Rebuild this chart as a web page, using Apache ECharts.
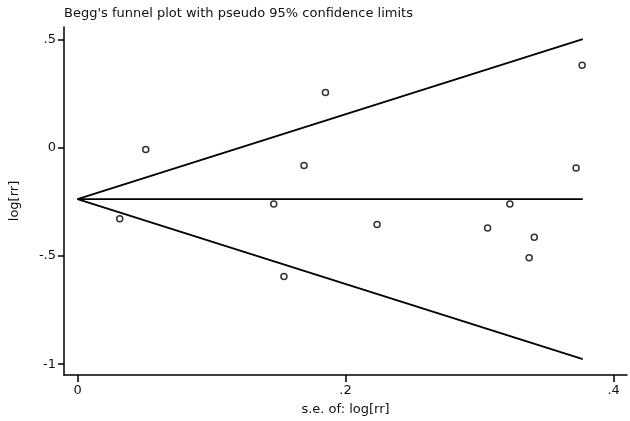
<!DOCTYPE html>
<html>
<head>
<meta charset="utf-8">
<script src="https://cdn.jsdelivr.net/npm/echarts@6/dist/echarts.min.js"></script>
<style>html,body{margin:0;padding:0;background:#fff;}#c{width:630px;height:421px;}</style>
</head>
<body>
<div id="c"></div>
<script>
// Study points
var seValues = [0.0315, 0.0509, 0.1464, 0.154, 0.169, 0.185, 0.2235, 0.306, 0.3226, 0.3408, 0.337, 0.372, 0.3765];
var logRR    = [-0.328, -0.009, -0.26, -0.595, -0.083, 0.255, -0.355, -0.371, -0.26, -0.414, -0.509, -0.094, 0.38];
// Funnel: pooled estimate and pseudo 95% limits at the largest s.e.
var funnelSe    = [0, 0.377];
var pooled      = [-0.238, -0.238];
var upperLimit  = [-0.238, 0.501];
var lowerLimit  = [-0.238, -0.977];
// Tick values and labels
var xTicks = [0, 0.2, 0.4];
var xTickLabels = ['0', '.2', '.4'];
var yTicks = [-1, -0.5, 0, 0.5];
var yTickLabels = ['-1', '-.5', '0', '.5'];

var font = 'DejaVu Sans';
function pairs(xs, ys){ return xs.map(function(x,i){ return [x, ys[i]]; }); }
function labelFor(vals, labels){ return function(v){ for (var i=0;i<vals.length;i++){ if (Math.abs(vals[i]-v)<1e-9) return labels[i]; } return ''; }; }

var lineStyle = {color:'#000', width:1.8};
var chart = echarts.init(document.getElementById('c'), null, {renderer:'canvas'});
chart.setOption({
  animation:false,
  backgroundColor:'#fff',
  title:{text:"Begg's funnel plot with pseudo 95% confidence limits", left:59, top:2,
    textStyle:{fontFamily:font, fontSize:13, fontWeight:'normal', color:'#111'}},
  grid:{left:59, right:3, top:27, bottom:45, containLabel:false},
  xAxis:{type:'value', min:-0.0101, max:0.41,
    name:'s.e. of: log[rr]', nameLocation:'middle', nameGap:28,
    nameTextStyle:{fontFamily:font, fontSize:13, color:'#111'},
    axisLine:{show:true, onZero:false, lineStyle:{color:'#000', width:1.5}},
    axisTick:{show:true, length:7, lineStyle:{color:'#000', width:1.5}, customValues:xTicks},
    axisLabel:{fontFamily:font, fontSize:13, color:'#111', margin:9, customValues:xTicks,
      formatter:labelFor(xTicks, xTickLabels)},
    splitLine:{show:false}},
  yAxis:{type:'value', min:-1.05, max:0.557,
    name:'log[rr]', nameLocation:'middle', nameGap:43, nameRotate:90,
    nameTextStyle:{fontFamily:font, fontSize:13, color:'#111'},
    axisLine:{show:true, onZero:false, lineStyle:{color:'#000', width:1.5}},
    axisTick:{show:true, length:6, lineStyle:{color:'#000', width:1.5}, customValues:yTicks},
    axisLabel:{fontFamily:font, fontSize:13, color:'#111', margin:8, customValues:yTicks,
      formatter:labelFor(yTicks, yTickLabels)},
    splitLine:{show:false}},
  series:[
    {type:'line', data:pairs(funnelSe, upperLimit), symbol:'none', lineStyle:lineStyle, silent:true},
    {type:'line', data:pairs(funnelSe, pooled), symbol:'none', lineStyle:lineStyle, silent:true},
    {type:'line', data:pairs(funnelSe, lowerLimit), symbol:'none', lineStyle:lineStyle, silent:true},
    {type:'scatter', data:pairs(seValues, logRR), symbol:'circle', symbolSize:6,
      itemStyle:{color:'#fff', borderColor:'#000', borderWidth:1.5}}
  ]
});
</script>
</body>
</html>
